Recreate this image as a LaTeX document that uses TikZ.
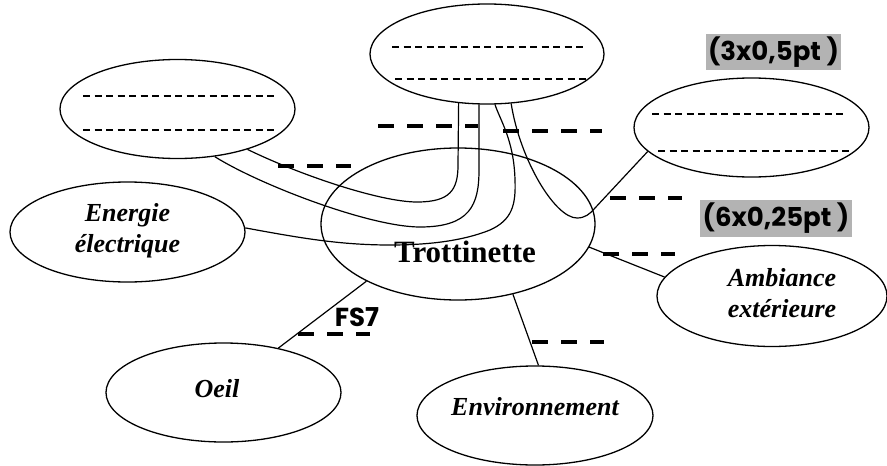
\documentclass[tikz,border=0pt]{standalone}
\usepackage{fontspec}
\setmainfont{Liberation Serif}
\newfontfamily\comicf{Poppins}
\usetikzlibrary{shapes.geometric}
\definecolor{boxgray}{HTML}{B3B3B3}
\begin{document}
\begin{tikzpicture}[x=1pt,y=-1pt,
  oval/.style={draw, ellipse, line width=1.3pt, inner sep=0pt, minimum width=235pt, minimum height=99pt},
  lbl/.style={font=\fontsize{26}{31}\selectfont\bfseries\itshape, align=center, inner sep=0pt},
  link/.style={line width=1.2pt},
  blank/.style={line width=4pt, dash pattern=on 16pt off 13pt},
  fine/.style={line width=1.5pt, dash pattern=on 7pt off 4.5pt},
  notebox/.style={fill=boxgray, font=\fontsize{26}{28}\selectfont\comicf\bfseries, inner sep=0pt}]
\useasboundingbox (0,0) rectangle (887,466);
% ellipses
\node[oval, minimum width=274pt, minimum height=152pt] (tr) at (458,224) {};
\node[oval] (tl) at (177.5,109) {};
\node[oval, minimum width=234pt, minimum height=100pt] (tc) at (487,54) {};
\node[oval] (re) at (751.5,127.5) {};
\node[oval, minimum height=100pt] (ee) at (127.5,232) {};
\node[oval] (oe) at (223.5,392.5) {};
\node[oval, minimum width=236pt] (en) at (535,415.5) {};
\node[oval, minimum width=230pt, minimum height=101pt] (am) at (772,296) {};
% texts
\node[font=\fontsize{31}{33}\selectfont\bfseries, anchor=base, inner sep=0pt] (trt) at (465,262) {Trottinette};
\node[lbl] (eet) at (127.5,231) {Energie\\électrique};
\node[lbl] (oet) at (217,389) {Oeil};
\node[lbl] (ent) at (535,407) {Environnement};
\node[lbl] (amt) at (782,293) {Ambiance\\extérieure};
% blanks inside ellipses
\draw[fine] (83,96) -- (276,96);
\draw[fine] (83,130) -- (274,130);
\draw[fine] (392,47) -- (585,47);
\draw[fine] (395,79) -- (588,79);
\draw[fine] (652,114) -- (845,114);
\draw[fine] (658,151) -- (853,151);
% connectors
\draw[link] (oe.39) -- (tr.212);
\draw[link] (en.86) -- (tr.308);
\draw[link] (am.170) -- (tr.350);
\draw[link] (tl.330) .. controls (300,175) and (380,202) .. (417,202)
  .. controls (450,202) and (458,190) .. (458,165) -- (tc.240);
\draw[link] (tl.308) .. controls (260,185) and (370,227) .. (420,227)
  .. controls (470,227) and (479,205) .. (479,170) -- (tc.261);
\draw[link] (ee.2) .. controls (300,238) and (340,245) .. (390,245)
  .. controls (440,245) and (470,238) .. (490,230)
  .. controls (512,220) and (516,205) .. (515,180)
  .. controls (514,140) and (500,120) .. (tc.279);
\draw[link] (tc.296) .. controls (520,160) and (555,218) .. (577,218)
  .. controls (585,218) and (590,214) .. (595,208) -- (re.193);
% answer blanks
\draw[blank] (278,166) -- (351,166);
\draw[blank] (378,126) -- (478,126);
\draw[blank] (503,131) -- (602,131);
\draw[blank] (610,198) -- (682,198);
\draw[blank] (603,254) -- (675,254);
\draw[blank] (532,342) -- (604,342);
\draw[blank] (298,334) -- (370,334);
% notes
\node[notebox, minimum width=135pt, minimum height=36pt] (n1) at (773.5,52) {(3x0,5pt )};
\node[notebox, minimum width=152pt, minimum height=37pt] (n2) at (776,218.5) {(6x0,25pt )};
\node[font=\fontsize{26}{28}\selectfont\comicf\bfseries, inner sep=0pt] (fs) at (357,317) {FS7};
\end{tikzpicture}
\end{document}
